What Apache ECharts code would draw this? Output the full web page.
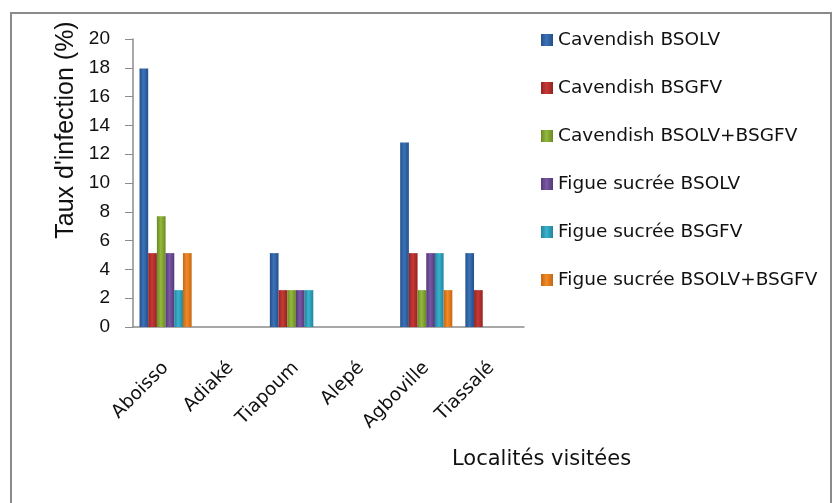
<!DOCTYPE html>
<html>
<head>
<meta charset="utf-8">
<script src="https://cdn.jsdelivr.net/npm/echarts@6/dist/echarts.min.js"></script>
<style>
  html, body { margin: 0; padding: 0; background: #fff; }
  #chart { width: 832px; height: 503px; }
</style>
</head>
<body>
<div id="chart"></div>
<script>
// localités
const categories = ["Aboisso", "Adiaké", "Tiapoum", "Alepé", "Agboville", "Tiassalé"];
const seriesNames = [
  "Cavendish BSOLV",
  "Cavendish BSGFV",
  "Cavendish BSOLV+BSGFV",
  "Figue sucrée BSOLV",
  "Figue sucrée BSGFV",
  "Figue sucrée BSOLV+BSGFV"
];
// taux d'infection (%)
const cavBSOLV = [17.95, 0, 5.13, 0, 12.82, 5.13];
const cavBSGFV = [5.13, 0, 2.56, 0, 5.13, 2.56];
const cavMixte = [7.69, 0, 2.56, 0, 2.56, 0];
const figBSOLV = [5.13, 0, 2.56, 0, 5.13, 0];
const figBSGFV = [2.56, 0, 2.56, 0, 5.13, 0];
const figMixte = [5.13, 0, 0, 0, 2.56, 0];
const yTicks = [0, 2, 4, 6, 8, 10, 12, 14, 16, 18, 20];

const seriesData = [cavBSOLV, cavBSGFV, cavMixte, figBSOLV, figBSGFV, figMixte];
// [bord foncé, centre clair]
const colors = [
  ["#234f8c", "#3c72b8"],
  ["#962222", "#c63a36"],
  ["#6a8a24", "#94b83c"],
  ["#53397a", "#7a58a4"],
  ["#1f86a0", "#3cb2cc"],
  ["#c9650e", "#f08a2a"]
];

const chart = echarts.init(document.getElementById("chart"));

const series = seriesData.map((d, i) => ({
  name: seriesNames[i],
  type: "bar",
  data: d.map(v => (v === 0 ? null : v)),
  barGap: "0%",
  barCategoryGap: "20%",
  itemStyle: {
    color: new echarts.graphic.LinearGradient(0, 0, 1, 0, [
      { offset: 0, color: colors[i][0] },
      { offset: 0.45, color: colors[i][1] },
      { offset: 1, color: colors[i][0] }
    ])
  }
}));

const option = {
  animation: false,
  color: colors.map(c => c[1]),
  grid: { left: 133, right: 308, top: 39, bottom: 176 },
  legend: {
    orient: "vertical",
    left: 536,
    top: 25,
    itemWidth: 12,
    itemHeight: 12,
    itemGap: 28,
    icon: "rect",
    textStyle: { fontFamily: "DejaVu Sans", fontSize: 18.5, lineHeight: 20, color: "#111" },
    data: seriesNames
  },
  xAxis: {
    type: "category",
    data: categories,
    axisLine: { lineStyle: { color: "#8c8c8c", width: 1.5 } },
    axisTick: { show: false },
    axisLabel: {
      rotate: 45,
      margin: 38,
      interval: 0,
      fontFamily: "DejaVu Sans",
      fontSize: 18.5,
      color: "#111"
    }
  },
  yAxis: {
    type: "value",
    min: 0,
    max: 20,
    interval: 2,
    axisLine: { show: true, lineStyle: { color: "#8c8c8c", width: 1.5 } },
    axisTick: { show: true, length: 8, lineStyle: { color: "#8c8c8c" } },
    splitLine: { show: false },
    axisLabel: {
      margin: 23,
      fontFamily: "Liberation Sans",
      fontSize: 19,
      color: "#111",
      formatter: v => (yTicks.includes(v) ? String(v) : "")
    }
  },
  graphic: [
    {
      type: "rect",
      shape: { x: 11, y: 13, width: 820, height: 520 },
      style: { fill: "none", stroke: "#8a8a8a", lineWidth: 2 },
      silent: true
    },
    {
      type: "text",
      x: 66,
      y: 130,
      rotation: Math.PI / 2,
      style: {
        text: "Taux d'infection (%)",
        font: "25px 'Liberation Sans'",
        fill: "#111",
        align: "center",
        verticalAlign: "middle"
      }
    },
    {
      type: "text",
      x: 452,
      y: 460,
      style: {
        text: "Localités visitées",
        font: "21px 'DejaVu Sans'",
        fill: "#111",
        verticalAlign: "middle"
      }
    }
  ],
  series: series
};

chart.setOption(option);
</script>
</body>
</html>
